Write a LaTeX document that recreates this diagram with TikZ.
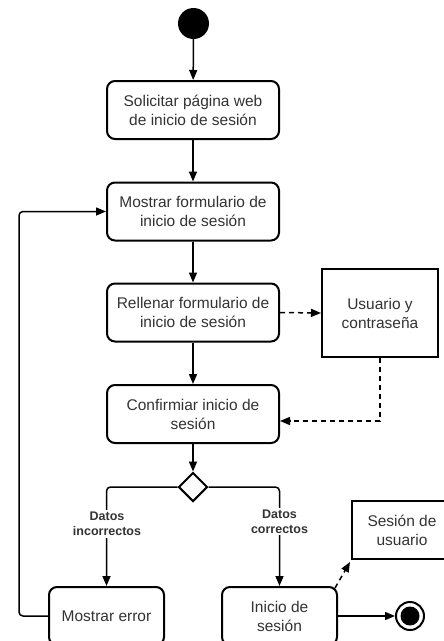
\documentclass[tikz,border=0pt]{standalone}
\usepackage{fontspec}
\setmainfont{Liberation Sans}
\usetikzlibrary{arrows.meta,shapes.geometric}
\definecolor{txt}{HTML}{333333}
\tikzset{
  act/.style={draw=black, line width=2pt, rounded corners=8pt, fill=white,
    minimum width=172pt, minimum height=58pt, align=center, text=txt,
    font=\fontsize{15.5}{19}\selectfont, inner sep=0pt},
  obj/.style={draw=black, line width=2pt, fill=white, align=center, text=txt,
    font=\fontsize{15.5}{19}\selectfont, inner sep=0pt},
  flow/.style={line width=1.5pt, -{Triangle[length=10pt,width=8pt]}},
  objflow/.style={flow, dash pattern=on 5pt off 4pt},
  guard/.style={fill=white, align=center, text=txt, inner sep=2pt,
    font=\fontsize{12.5}{15}\selectfont\bfseries},
}
\begin{document}
\begin{tikzpicture}[x=1pt,y=-1pt]
  \useasboundingbox (0,0) rectangle (444,641);
  \clip (0,0) rectangle (444,641);

  % initial and final states
  \node[circle, fill=black, minimum size=31pt, inner sep=0pt] (start) at (193.5,23.5) {};
  \node[circle, draw=black, line width=2pt, fill=white, minimum size=28pt, inner sep=0pt] (fin) at (410,616) {};
  \node[circle, fill=black, minimum size=19pt, inner sep=0pt] (fincore) at (fin) {};

  % activities
  \node[act] (b1) at (193,110) {Solicitar página web\\de inicio de sesión};
  \node[act] (b2) at (193,211.5) {Mostrar formulario de\\inicio de sesión};
  \node[act] (b3) at (193,312.5) {Rellenar formulario de\\inicio de sesión};
  \node[act] (b4) at (193,414) {Confirmiar inicio de\\sesión};
  \node[act, minimum width=115pt] (err) at (106.5,616) {Mostrar error};
  \node[act, minimum width=115pt] (ini) at (279.5,616) {Inicio de\\sesión};

  % objects
  \node[obj, minimum width=116pt, minimum height=88pt] (usr) at (380,313) {Usuario y\\contraseña};
  \node[obj, minimum width=100pt, minimum height=58pt] (ses) at (402,530) {Sesión de\\usuario};

  % decision
  \node[diamond, draw=black, line width=2pt, fill=white, minimum width=29pt, minimum height=29pt, inner sep=0pt] (dec) at (193,487) {};

  % control flow
  \draw[flow] (start) -- (b1);
  \draw[flow] (b1) -- (b2);
  \draw[flow] (b2) -- (b3);
  \draw[flow] (b3) -- (b4);
  \draw[flow] (b4) -- (dec);
  \draw[flow, rounded corners=4pt] (dec.west) -| (err.north);
  \draw[flow, rounded corners=4pt] (dec.east) -| (ini.north);
  \node[guard] (gno) at (107,524) {Datos\\incorrectos};
  \node[guard] (gyes) at (279.5,521.5) {Datos\\correctos};
  \coordinate (loop) at (19,211.5);
  \draw[flow, rounded corners=4pt] (err.west) -| (loop) -- (b2.west);
  \draw[flow] (ini.east) -- (fin.west);

  % object flow
  \draw[objflow] (b3.east) -- (usr.west);
  \draw[objflow] (usr.south) |- ([yshift=-7pt]b4.east);
  \draw[objflow] ([shift={(-3pt,-2pt)}]ini.north east) -- ([shift={(-1pt,-2pt)}]ses.south west);
\end{tikzpicture}
\end{document}
